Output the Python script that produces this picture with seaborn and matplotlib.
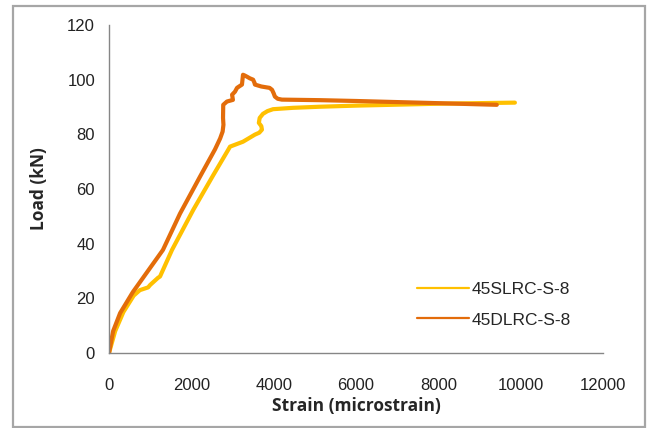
import matplotlib
matplotlib.use("Agg")
import matplotlib.pyplot as plt
import seaborn as sns
import pandas as pd
from matplotlib.patches import Rectangle

# Data
slrc_strain = [0, 150, 350, 600, 750, 850, 950, 1000, 1190, 1240, 1530, 2048, 2530, 2898,
               2940, 3255, 3545, 3650, 3715, 3700, 3640, 3660, 3740, 3850, 3985, 4470,
               5125, 6000, 8000, 9860]
slrc_load = [0, 8, 15, 21, 23, 23.5, 24, 24.9, 27.5, 28, 37.7, 52.4, 65, 74.4,
             75.5, 77.3, 79.9, 80.6, 81.7, 83, 84.2, 86, 87.5, 88.5, 89.2, 89.7,
             90.1, 90.5, 91.2, 91.6]

dlrc_strain = [0, 100, 270, 580, 1310, 1725, 2210, 2575, 2700, 2760, 2780, 2770, 2775,
               2865, 3010, 2990, 3060, 3110, 3230, 3255, 3300, 3350, 3420, 3500, 3530,
               3545, 3700, 3900, 3960, 4000, 4030, 4100, 4200, 5125, 6000, 8000, 9420]
dlrc_load = [0, 8, 14.6, 22.3, 37.7, 51, 64.5, 74.5, 78.5, 81, 83.5, 86, 90.8,
             92, 92.6, 94.5, 95.6, 97, 98.2, 101.8, 101.5, 101.1, 100.5, 100, 99,
             98.2, 97.5, 97, 96.3, 95, 93.8, 93, 92.7, 92.5, 92.2, 91.4, 90.8]

series_names = ["45SLRC-S-8", "45DLRC-S-8"]
colors = ["#FFC000", "#E36C0A"]
x_ticks = [0, 2000, 4000, 6000, 8000, 10000, 12000]
y_ticks = [0, 20, 40, 60, 80, 100, 120]

df = pd.concat([
    pd.DataFrame({"strain": slrc_strain, "load": slrc_load, "series": series_names[0]}),
    pd.DataFrame({"strain": dlrc_strain, "load": dlrc_load, "series": series_names[1]}),
], ignore_index=True)

sns.set_style("white")
plt.rcParams["font.family"] = ["Liberation Sans", "DejaVu Sans"]

fig = plt.figure(figsize=(6.51, 4.28), dpi=100)
ax = fig.add_axes([109 / 651, 1 - 353 / 428, (603 - 109) / 651, (353 - 25) / 428])

sns.lineplot(data=df, x="strain", y="load", hue="series", palette=colors,
             sort=False, estimator=None, linewidth=3.0, ax=ax, legend=True,
             solid_joinstyle="round", solid_capstyle="round")

ax.set_xlim(0, 12000)
ax.set_ylim(0, 120)
ax.set_xticks(x_ticks)
ax.set_yticks(y_ticks)
ax.set_xticklabels([str(v) for v in x_ticks])
ax.set_yticklabels([str(v) for v in y_ticks])

for s in ["top", "right"]:
    ax.spines[s].set_visible(False)
for s in ["left", "bottom"]:
    ax.spines[s].set_color("#868686")
    ax.spines[s].set_linewidth(1.0)

ax.tick_params(axis="both", direction="out", length=4, width=1.0, color="#868686",
               labelsize=12, labelcolor="#222222")
ax.tick_params(axis="x", pad=14)
ax.tick_params(axis="y", pad=6)

ax.set_xlabel("Strain (microstrain)", fontsize=12.5, fontweight="bold",
              family="Open Sans", labelpad=3)
ax.set_ylabel("Load (kN)", fontsize=12.5, fontweight="bold", family="Open Sans",
              labelpad=14)

leg = ax.legend(loc="lower right", bbox_to_anchor=(0.967, 0.03), frameon=False,
                fontsize=12.5, handlelength=3.0, handletextpad=0.15, labelspacing=0.9)
for line in leg.get_lines():
    line.set_linewidth(1.6)

fig.patches.append(Rectangle((13 / 651, 1 - 427 / 428), (645 - 13) / 651, (427 - 6) / 428,
                             transform=fig.transFigure, fill=False,
                             edgecolor="#A6A6A6", linewidth=1.6))

fig.savefig("out.png", dpi=100)
